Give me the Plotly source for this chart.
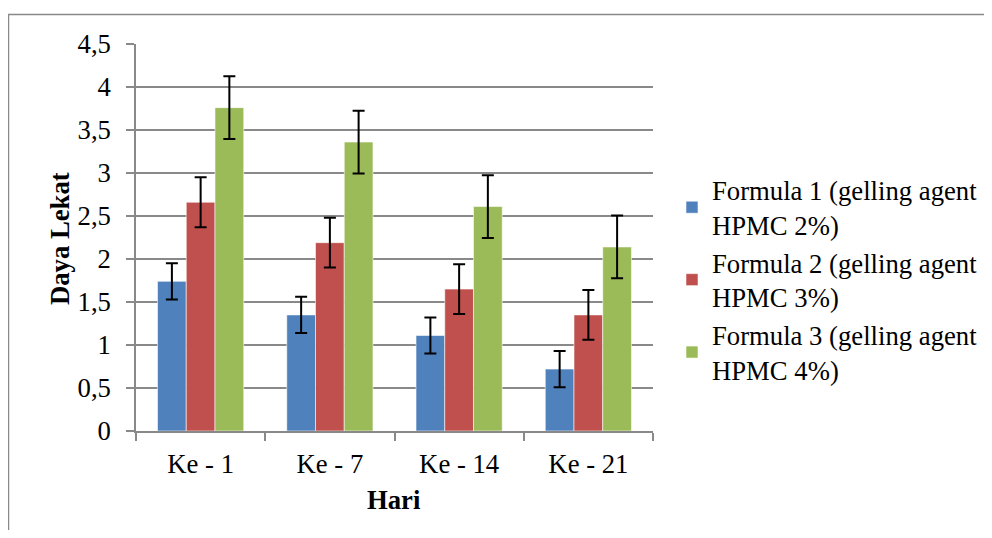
import plotly.graph_objects as go

categories = ["Ke - 1", "Ke - 7", "Ke - 14", "Ke - 21"]
series_names = [
    "Formula 1 (gelling agent<br>HPMC 2%)",
    "Formula 2 (gelling agent<br>HPMC 3%)",
    "Formula 3 (gelling agent<br>HPMC 4%)",
]
formula1 = [1.74, 1.35, 1.11, 0.72]
formula2 = [2.66, 2.19, 1.65, 1.35]
formula3 = [3.76, 3.36, 2.61, 2.14]
err1 = [0.21, 0.21, 0.21, 0.21]
err2 = [0.29, 0.29, 0.29, 0.29]
err3 = [0.365, 0.365, 0.365, 0.365]
colors = ["#4F81BD", "#C0504D", "#9BBB59"]
y_ticks = [0, 0.5, 1, 1.5, 2, 2.5, 3, 3.5, 4, 4.5]
y_tick_text = ["0", "0,5", "1", "1,5", "2", "2,5", "3", "3,5", "4", "4,5"]

FONT = "Liberation Serif"
FS = 26.7
GRAY = "#898989"

fig = go.Figure()
for name, vals, errs, col in zip(series_names, [formula1, formula2, formula3],
                                 [err1, err2, err3], colors):
    fig.add_trace(go.Bar(
        x=categories, y=vals, name=name,
        marker=dict(color=col, line=dict(color="rgba(255,255,255,0.7)", width=0.8)),
        error_y=dict(type="data", array=errs, visible=True,
                     color="black", thickness=2, width=6),
    ))

OFF = 8  # page body margin
W, H = 992 - 2 * OFF, 538 - 2 * OFF
# plot area in reference pixels: x 136..653, y 44..431
L = 136 - OFF
T = 44 - OFF
R = W - (653 - OFF)
B = H - (431 - OFF)
pw = W - L - R
ph = H - T - B

def px_x(p):
    return (p - OFF - L) / pw

def px_y(p):
    return (H - B - (p - OFF)) / ph

fig.update_layout(
    width=W, height=H,
    margin=dict(l=L, r=R, t=T, b=B, autoexpand=False),
    paper_bgcolor="white", plot_bgcolor="white",
    font=dict(family=FONT, size=FS, color="black"),
    barmode="group", bargap=0.333, bargroupgap=0,
    showlegend=True,
    legend=dict(
        x=px_x(672), xanchor="left", y=px_y(280), yanchor="middle",
        font=dict(family=FONT, size=FS, color="black"),
        bgcolor="rgba(0,0,0,0)", itemwidth=30,
    ),
    xaxis=dict(
        showline=True, linecolor=GRAY, linewidth=1.5,
        ticks="outside", ticklen=8, tickcolor=GRAY, tickwidth=1.5,
        tickson="boundaries", showgrid=False, ticklabelstandoff=8,
        tickfont=dict(family=FONT, size=FS, color="black"),
        fixedrange=True,
    ),
    yaxis=dict(
        range=[0, 4.5], tickvals=y_ticks, ticktext=y_tick_text,
        showline=True, linecolor=GRAY, linewidth=1.5,
        ticks="outside", ticklen=8, tickcolor=GRAY, tickwidth=1.5,
        showgrid=True, gridcolor=GRAY, gridwidth=1.5,
        zeroline=False, ticklabelstandoff=10,
        tickfont=dict(family=FONT, size=FS, color="black"),
        fixedrange=True,
    ),
    annotations=[
        dict(text="<b>Daya Lekat</b>", xref="paper", yref="paper",
             x=px_x(60), y=px_y(239), textangle=-90, showarrow=False,
             xanchor="center", yanchor="middle",
             font=dict(family=FONT, size=FS, color="black")),
        dict(text="<b>Hari</b>", xref="paper", yref="paper",
             x=px_x(394), y=px_y(500), showarrow=False,
             xanchor="center", yanchor="middle",
             font=dict(family=FONT, size=FS, color="black")),
    ],
    shapes=[
        dict(type="rect", xref="paper", yref="paper",
             x0=px_x(8.5), y0=px_y(600), x1=px_x(1050), y1=px_y(14.5),
             line=dict(color=GRAY, width=1.5), fillcolor="rgba(0,0,0,0)",
             layer="below"),
    ],
)

fig.write_html("out.html")
